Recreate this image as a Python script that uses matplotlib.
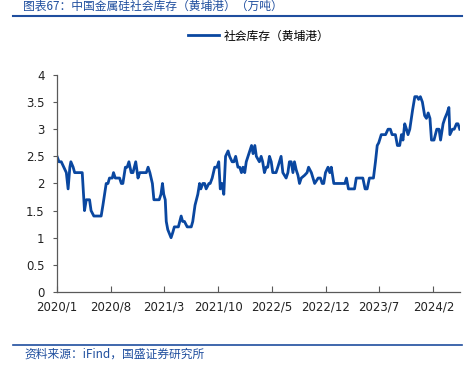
import numpy as np
import pandas as pd
import matplotlib
matplotlib.use("Agg")
import matplotlib.pyplot as plt

plt.rcParams['font.family'] = ['Noto Sans CJK SC', 'DejaVu Sans']

dates = [
    "2020-01-01", "2020-01-09", "2020-01-18", "2020-02-07", "2020-02-14", "2020-02-21",
    "2020-02-25", "2020-03-05", "2020-03-11", "2020-04-10", "2020-04-19", "2020-04-26",
    "2020-05-09", "2020-05-15", "2020-05-26", "2020-06-24", "2020-07-01", "2020-07-14",
    "2020-07-21", "2020-07-27", "2020-08-07", "2020-08-12", "2020-08-19", "2020-09-05",
    "2020-09-12", "2020-09-18", "2020-09-28", "2020-10-05", "2020-10-12", "2020-10-21",
    "2020-10-28", "2020-11-08", "2020-11-17", "2020-11-24", "2020-12-20", "2020-12-27",
    "2021-01-03", "2021-01-13", "2021-01-19", "2021-02-09", "2021-02-16", "2021-02-22",
    "2021-02-27", "2021-03-05", "2021-03-09", "2021-03-15", "2021-03-28", "2021-04-04",
    "2021-04-10", "2021-04-26", "2021-05-07", "2021-05-13", "2021-05-20", "2021-05-31",
    "2021-06-16", "2021-06-22", "2021-07-01", "2021-07-12", "2021-07-19", "2021-07-24",
    "2021-08-01", "2021-08-08", "2021-08-14", "2021-08-25", "2021-08-30", "2021-09-07",
    "2021-09-17", "2021-09-26", "2021-10-03", "2021-10-09", "2021-10-16", "2021-10-23",
    "2021-10-30", "2021-11-09", "2021-11-15", "2021-11-25", "2021-12-02", "2021-12-09",
    "2021-12-18", "2021-12-25", "2022-01-01", "2022-01-07", "2022-01-14", "2022-01-20",
    "2022-02-03", "2022-02-10", "2022-02-16", "2022-02-23", "2022-03-01", "2022-03-13",
    "2022-03-20", "2022-03-26", "2022-04-02", "2022-04-09", "2022-04-15", "2022-04-22",
    "2022-04-29", "2022-05-05", "2022-05-18", "2022-05-25", "2022-06-07", "2022-06-14",
    "2022-06-27", "2022-07-04", "2022-07-10", "2022-07-17", "2022-07-24", "2022-07-30",
    "2022-08-06", "2022-08-13", "2022-08-19", "2022-08-26", "2022-09-08", "2022-09-18",
    "2022-09-24", "2022-10-05", "2022-10-18", "2022-11-01", "2022-11-10", "2022-11-17",
    "2022-11-23", "2022-11-30", "2022-12-10", "2022-12-17", "2022-12-23", "2023-01-02",
    "2023-02-15", "2023-02-21", "2023-03-01", "2023-03-25", "2023-04-01", "2023-04-27",
    "2023-05-06", "2023-05-14", "2023-05-23", "2023-06-08", "2023-06-16", "2023-06-23",
    "2023-06-29", "2023-07-09", "2023-07-26", "2023-08-05", "2023-08-14", "2023-08-21",
    "2023-09-03", "2023-09-11", "2023-09-20", "2023-09-27", "2023-10-03", "2023-10-10",
    "2023-10-17", "2023-10-23", "2023-10-30", "2023-11-10", "2023-11-19", "2023-11-28",
    "2023-12-04", "2023-12-11", "2023-12-19", "2023-12-28", "2024-01-04", "2024-01-11",
    "2024-01-18", "2024-01-24", "2024-02-03", "2024-02-14", "2024-02-23", "2024-02-29",
    "2024-03-10", "2024-03-17", "2024-03-26", "2024-04-02", "2024-04-06", "2024-04-16",
    "2024-04-23", "2024-05-02", "2024-05-08", "2024-05-15",
]
stock = [
    2.5, 2.4, 2.4, 2.2, 1.9, 2.3,
    2.4, 2.3, 2.2, 2.2, 1.5, 1.7,
    1.7, 1.5, 1.4, 1.4, 1.6, 2.0,
    2.0, 2.1, 2.1, 2.2, 2.1, 2.1,
    2.0, 2.0, 2.3, 2.3, 2.4, 2.2,
    2.2, 2.4, 2.1, 2.2, 2.2, 2.3,
    2.2, 2.0, 1.7, 1.7, 1.8, 2.0,
    1.8, 1.7, 1.3, 1.15, 1.0, 1.1,
    1.2, 1.2, 1.4, 1.3, 1.3, 1.2,
    1.2, 1.3, 1.6, 1.8, 2.0, 1.9,
    2.0, 2.0, 1.9, 2.0, 2.0, 2.1,
    2.3, 2.3, 2.4, 1.9, 2.0, 1.8,
    2.5, 2.6, 2.5, 2.4, 2.4, 2.5,
    2.3, 2.3, 2.2, 2.3, 2.2, 2.4,
    2.6, 2.7, 2.55, 2.7, 2.5, 2.4,
    2.5, 2.4, 2.2, 2.3, 2.3, 2.5,
    2.4, 2.2, 2.2, 2.3, 2.5, 2.2,
    2.1, 2.2, 2.4, 2.4, 2.2, 2.4,
    2.25, 2.15, 2.0, 2.1, 2.15, 2.2,
    2.3, 2.2, 2.0, 2.1, 2.1, 2.0,
    2.0, 2.2, 2.3, 2.2, 2.3, 2.0,
    2.0, 2.1, 1.9, 1.9, 2.1, 2.1,
    1.9, 1.9, 2.1, 2.1, 2.4, 2.7,
    2.75, 2.9, 2.9, 3.0, 3.0, 2.9,
    2.9, 2.7, 2.7, 2.9, 2.8, 3.1,
    3.0, 2.9, 3.0, 3.35, 3.6, 3.6,
    3.55, 3.6, 3.5, 3.25, 3.2, 3.3,
    3.2, 2.8, 2.8, 3.0, 3.0, 2.8,
    3.1, 3.2, 3.3, 3.4, 2.9, 3.0,
    3.0, 3.1, 3.1, 3.0,
]
tick_dates = ["2020-01-01", "2020-08-01", "2021-03-01", "2021-10-01",
              "2022-05-01", "2022-12-01", "2023-07-01", "2024-02-01"]
tick_labels = ["2020/1", "2020/8", "2021/3", "2021/10",
               "2022/5", "2022/12", "2023/7", "2024/2"]

blue = "#0a47a0"
txt_blue = "#1f4e9e"

x = pd.to_datetime(dates)

fig = plt.figure(figsize=(4.73, 3.66), dpi=100)
ax = fig.add_axes([0.1205, 0.2022, 0.852, 0.593])
ax.plot(x, stock, color=blue, lw=2.0, label="社会库存（黄埔港）")

ax.set_xlim(pd.Timestamp("2020-01-01"), pd.Timestamp("2024-05-16"))
ax.set_ylim(0, 4)
ax.set_yticks(np.arange(0, 4.01, 0.5))
ax.set_yticklabels(["0", "0.5", "1", "1.5", "2", "2.5", "3", "3.5", "4"])
ax.set_xticks(pd.to_datetime(tick_dates))
ax.set_xticklabels(tick_labels)

for s in ["top", "right"]:
    ax.spines[s].set_visible(False)
for s in ["left", "bottom"]:
    ax.spines[s].set_color("#595959")
    ax.spines[s].set_linewidth(0.9)
ax.tick_params(axis="x", direction="in", length=4, color="#595959",
               labelsize=8.5, labelcolor="#222222", pad=6)
ax.tick_params(axis="y", direction="out", length=3, color="#595959",
               labelsize=8.5, labelcolor="#222222", pad=6)
for lab in ax.get_xticklabels() + ax.get_yticklabels():
    lab.set_family("DejaVu Sans")

ax.legend(loc="lower center", bbox_to_anchor=(0.5, 1.1), frameon=False,
          fontsize=8.5, handlelength=2.6, handletextpad=0.4)

# header / footer decoration
fig.text(23 / 473, 1 - 6.5 / 366, "图表67：中国金属硅社会库存（黄埔港）（万吨）",
         color=txt_blue, fontsize=8.5, style="italic", va="center", ha="left")
fig.add_artist(plt.Line2D([13 / 473, 462 / 473], [1 - 16 / 366, 1 - 16 / 366],
                          color=txt_blue, lw=1.5))
fig.add_artist(plt.Line2D([13 / 473, 462 / 473], [1 - 345 / 366, 1 - 345 / 366],
                          color=txt_blue, lw=1.2))
fig.text(24 / 473, 1 - 354 / 366, "资料来源：iFind，国盛证券研究所",
         color=txt_blue, fontsize=8.5, style="italic", va="center", ha="left")

fig.savefig("out.png", dpi=100)
